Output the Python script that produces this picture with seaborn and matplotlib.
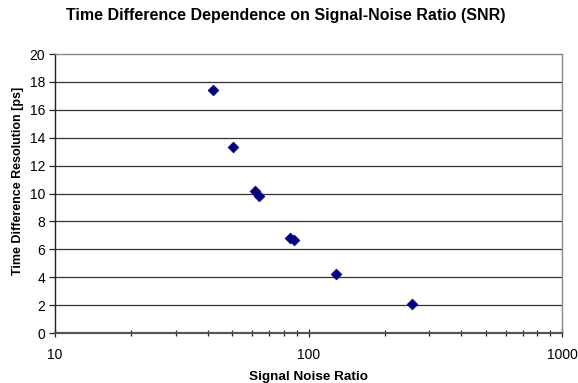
import matplotlib
matplotlib.use("Agg")
import matplotlib.pyplot as plt
import seaborn as sns
import pandas as pd
from matplotlib.ticker import LogLocator, NullFormatter, FixedLocator

snr = [42, 50.5, 61.5, 64, 84.5, 88, 128, 257]
resolution = [17.4, 13.35, 10.2, 9.8, 6.8, 6.65, 4.25, 2.08]
x_ticks = [10, 100, 1000]
x_tick_labels = ["10", "100", "1000"]
y_ticks = [0, 2, 4, 6, 8, 10, 12, 14, 16, 18, 20]

sns.set_theme(style="white")
plt.rcParams["font.family"] = ["Liberation Sans", "DejaVu Sans"]

df = pd.DataFrame({"snr": snr, "res": resolution})

fig = plt.figure(figsize=(5.78, 3.83), dpi=100)
ax = fig.add_axes([0.0952, 0.1305, 0.9723 - 0.0952, 0.859 - 0.1305])

sns.scatterplot(data=df, x="snr", y="res", marker="D", s=30, color="#000080",
                edgecolor="#000080", linewidth=0.5, ax=ax, zorder=3)

ax.set_xscale("log")
ax.set_xlim(10, 1000)
ax.set_ylim(0, 20)
ax.xaxis.set_major_locator(FixedLocator(x_ticks))
ax.set_xticklabels(x_tick_labels)
ax.xaxis.set_minor_locator(LogLocator(base=10, subs=range(2, 10)))
ax.xaxis.set_minor_formatter(NullFormatter())
ax.set_yticks(y_ticks)

for y in y_ticks[1:-1]:
    ax.axhline(y, color="#333333", linewidth=0.9, zorder=1)

for s in ["top", "right"]:
    ax.spines[s].set_color("#888888")
    ax.spines[s].set_linewidth(1.0)
ax.spines["left"].set_color("#222222")
ax.spines["left"].set_linewidth(1.0)
ax.spines["bottom"].set_color("#555555")
ax.spines["bottom"].set_linewidth(1.6)

ax.tick_params(axis="x", which="both", direction="inout", length=6, width=0.9,
               color="#222222", labelsize=10, labelcolor="black", pad=8, bottom=True)
ax.tick_params(axis="x", which="minor", length=5)
ax.tick_params(axis="y", which="major", direction="out", length=4, width=0.9,
               color="#222222", labelsize=10, labelcolor="black", pad=3, left=True)

ax.set_xlabel("Signal Noise Ratio", fontsize=9.7, fontweight="bold", labelpad=6,
              color="black")
ax.set_ylabel("Time Difference Resolution [ps]", fontsize=9, fontweight="bold",
              color="black")
ax.yaxis.set_label_coords(-0.062, 0.545)
fig.suptitle("Time Difference Dependence on Signal-Noise Ratio (SNR)",
             fontsize=11.5, fontweight="bold", x=0.495, y=0.98, color="black")

fig.savefig("out.png", dpi=100, facecolor="white")
